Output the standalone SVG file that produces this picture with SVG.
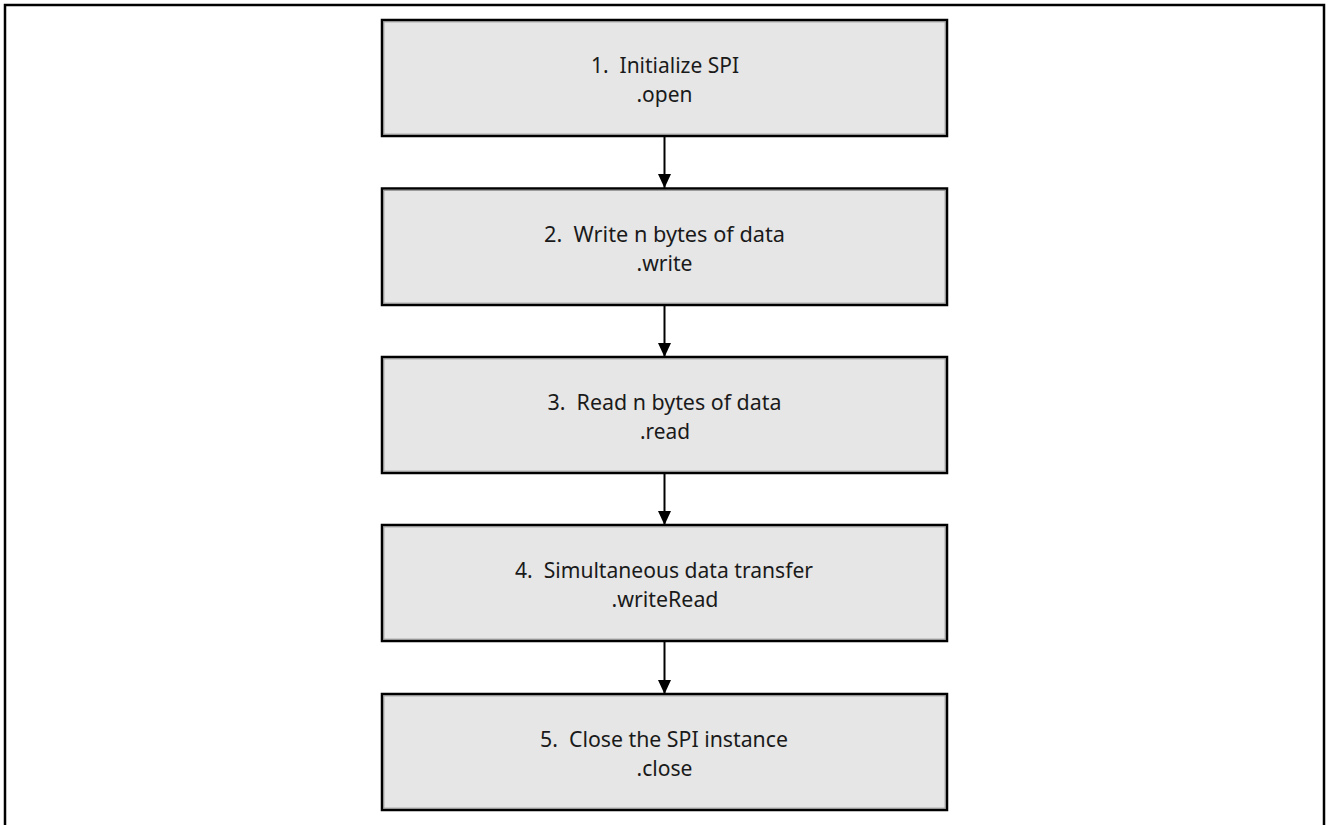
<svg xmlns="http://www.w3.org/2000/svg" width="1328" height="825" viewBox="0 0 1328 825">
<style>
.box{fill:#e6e6e6;stroke:#000;stroke-width:2.5}
.inner{fill:none;stroke:#8a8a8a;stroke-width:1}
.t{font-family:"Noto Sans","Open Sans","Liberation Sans",sans-serif;font-size:22px;fill:#1a1a1a;text-anchor:middle}
.conn{stroke:#000;stroke-width:2;fill:none}
</style>
<defs>
<marker id="arr" viewBox="0 0 14 13" refX="14" refY="6.5" markerWidth="14" markerHeight="13" markerUnits="userSpaceOnUse" orient="auto">
<path d="M0,0 L14,6.5 L0,13 Z" fill="#000"/>
</marker>
</defs>
<rect width="1328" height="825" fill="#fff"/>
<path d="M5,825 V5 H1324 V825" fill="none" stroke="#000" stroke-width="2.5"/>
<g id="connectors">
<line class="conn" x1="664.5" y1="136" x2="664.5" y2="188" marker-end="url(#arr)"/>
<line class="conn" x1="664.5" y1="305" x2="664.5" y2="357" marker-end="url(#arr)"/>
<line class="conn" x1="664.5" y1="473" x2="664.5" y2="525" marker-end="url(#arr)"/>
<line class="conn" x1="664.5" y1="641" x2="664.5" y2="694" marker-end="url(#arr)"/>
</g>
<g id="node1">
<rect class="box" x="382" y="20" width="565" height="116"/>
<rect class="inner" x="383.8" y="21.8" width="561.4" height="112.4"/>
<text class="t" x="665" y="73" textLength="148" lengthAdjust="spacingAndGlyphs" xml:space="preserve">1.  Initialize SPI</text>
<text class="t" x="664.5" y="102" textLength="56" lengthAdjust="spacingAndGlyphs">.open</text>
</g>
<g id="node2">
<rect class="box" x="382" y="188.5" width="565" height="116.5"/>
<rect class="inner" x="383.8" y="190.3" width="561.4" height="112.9"/>
<text class="t" x="664.5" y="242" textLength="241" lengthAdjust="spacingAndGlyphs" xml:space="preserve">2.  Write n bytes of data</text>
<text class="t" x="664.5" y="271" textLength="56" lengthAdjust="spacingAndGlyphs">.write</text>
</g>
<g id="node3">
<rect class="box" x="382" y="357" width="565" height="116"/>
<rect class="inner" x="383.8" y="358.8" width="561.4" height="112.4"/>
<text class="t" x="664.5" y="410" textLength="234" lengthAdjust="spacingAndGlyphs" xml:space="preserve">3.  Read n bytes of data</text>
<text class="t" x="665" y="439" textLength="50" lengthAdjust="spacingAndGlyphs">.read</text>
</g>
<g id="node4">
<rect class="box" x="382" y="525" width="565" height="116"/>
<rect class="inner" x="383.8" y="526.8" width="561.4" height="112.4"/>
<text class="t" x="664" y="578" textLength="298" lengthAdjust="spacingAndGlyphs" xml:space="preserve">4.  Simultaneous data transfer</text>
<text class="t" x="665" y="607" textLength="107" lengthAdjust="spacingAndGlyphs">.writeRead</text>
</g>
<g id="node5">
<rect class="box" x="382" y="694" width="565" height="116"/>
<rect class="inner" x="383.8" y="695.8" width="561.4" height="112.4"/>
<text class="t" x="664" y="747" textLength="248" lengthAdjust="spacingAndGlyphs" xml:space="preserve">5.  Close the SPI instance</text>
<text class="t" x="664.5" y="776" textLength="56" lengthAdjust="spacingAndGlyphs">.close</text>
</g>
</svg>
